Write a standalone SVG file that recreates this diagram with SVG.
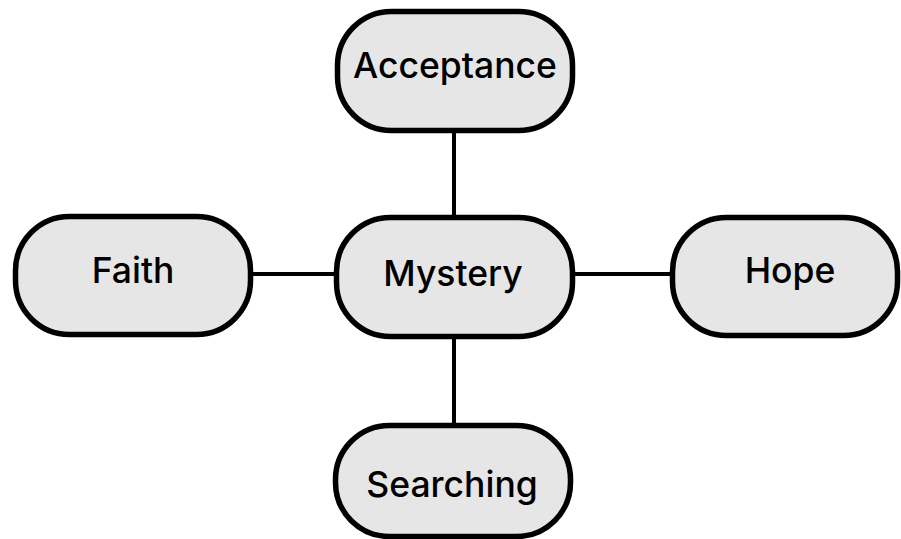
<svg xmlns="http://www.w3.org/2000/svg" width="901" height="539" viewBox="0 0 901 539">
  <style>
    .box { fill: #e6e6e6; stroke: #000; stroke-width: 5.5; }
    .label { font-family: Inter, "Liberation Sans", Arial, sans-serif; font-weight: 500; font-size: 35.5px; fill: #000; text-anchor: middle; }
    .link { stroke: #000; stroke-width: 4; fill: none; }
  </style>
  <rect width="901" height="539" fill="#fff"/>
  <g id="connectors">
    <line class="link" x1="454" y1="130" x2="454" y2="218"/>
    <line class="link" x1="454" y1="336" x2="454" y2="426"/>
    <line class="link" x1="251" y1="274" x2="337" y2="274"/>
    <line class="link" x1="572" y1="274" x2="673" y2="274"/>
  </g>
  <g id="acceptance">
    <rect class="box" x="337.5" y="11.5" width="235" height="119" rx="54"/>
    <text class="label" x="455" y="78">Acceptance</text>
  </g>
  <g id="mystery">
    <rect class="box" x="336.5" y="217.5" width="236" height="119" rx="54"/>
    <text class="label" x="453" y="286">Mystery</text>
  </g>
  <g id="faith">
    <rect class="box" x="15.5" y="216.5" width="235" height="118" rx="54"/>
    <text class="label" x="133" y="283">Faith</text>
  </g>
  <g id="hope">
    <rect class="box" x="672.5" y="217.5" width="225" height="118" rx="54"/>
    <text class="label" x="790" y="283">Hope</text>
  </g>
  <g id="searching">
    <rect class="box" x="335.5" y="425.5" width="235" height="111" rx="54"/>
    <text class="label" x="452" y="497">Searching</text>
  </g>
</svg>
